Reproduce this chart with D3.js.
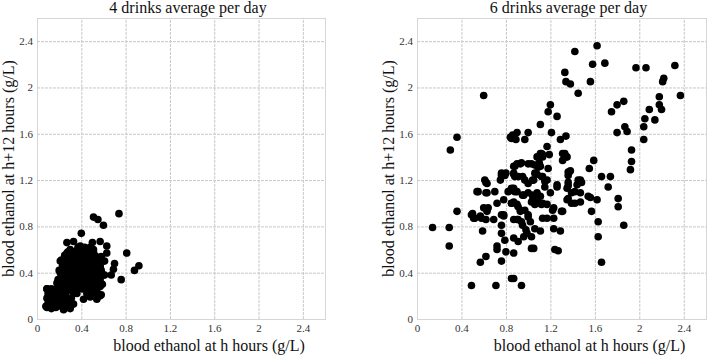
<!DOCTYPE html>
<html>
<head>
<meta charset="utf-8">
<script src="https://cdn.jsdelivr.net/npm/d3@7"></script>
<style>
  body { margin: 0; background: #fff; }
  svg { display: block; font-family: "Liberation Serif", "Times New Roman", serif; }
</style>
</head>
<body>
<svg id="chart" width="709" height="358"></svg>
<script>
// axis ticks shared by both panels
const tickValues = [0, 0.4, 0.8, 1.2, 1.6, 2, 2.4];
const titles = ["4 drinks average per day", "6 drinks average per day"];
const xLabel = "blood ethanol at h hours (g/L)";
const yLabel = "blood ethanol at h+12 hours (g/L)";

// [ethanol at h, ethanol at h+12]
const fourDrinks = [
  [0.74,0.91],[0.51,0.88],[0.55,0.86],[0.60,0.81],[0.40,0.74],[0.27,0.66],[0.33,0.67],
  [0.50,0.66],[0.57,0.67],[0.63,0.63],[0.63,0.57],[0.81,0.57],[0.70,0.48],[0.69,0.43],
  [0.67,0.38],[0.88,0.42],[0.92,0.46],[0.76,0.34],[0.57,0.20],[0.58,0.21],[0.46,0.21],
  [0.25,0.55],[0.40,0.60],[0.46,0.58],[0.52,0.55],
  [0.09,0.26],[0.12,0.19],[0.08,0.11],[0.13,0.09],[0.18,0.17],[0.22,0.11],[0.21,0.22],
  [0.25,0.24],[0.28,0.17],[0.30,0.09],[0.18,0.31],[0.21,0.40],[0.24,0.45],[0.22,0.51],
  [0.27,0.57],[0.30,0.60],[0.36,0.57],[0.39,0.63],[0.33,0.51],[0.36,0.45],[0.42,0.51],
  [0.48,0.57],[0.45,0.45],[0.50,0.42],[0.51,0.34],[0.39,0.37],[0.33,0.34],[0.27,0.34],
  [0.45,0.28],[0.48,0.19],[0.42,0.17],[0.36,0.22],[0.30,0.25],
  [0.51,0.60],[0.54,0.51],[0.57,0.45],[0.60,0.38],[0.52,0.34],[0.57,0.28],[0.51,0.22],[0.54,0.17],
  [0.09,0.10],[0.13,0.10],[0.17,0.10],[0.24,0.08],[0.27,0.10],[0.31,0.12],
  [0.10,0.14],[0.16,0.14],[0.22,0.14],[0.28,0.14],[0.33,0.13],
  [0.09,0.18],[0.13,0.18],[0.20,0.18],[0.25,0.18],[0.31,0.18],
  [0.10,0.22],[0.15,0.22],[0.19,0.22],[0.26,0.22],[0.33,0.22],[0.45,0.22],[0.55,0.22],
  [0.09,0.26],[0.13,0.26],[0.18,0.26],[0.23,0.26],[0.29,0.26],[0.35,0.26],[0.41,0.26],[0.47,0.26],[0.53,0.26],
  [0.21,0.30],[0.26,0.30],[0.31,0.30],[0.37,0.30],[0.43,0.30],[0.49,0.30],[0.55,0.30],[0.59,0.30],
  [0.19,0.34],[0.24,0.34],[0.29,0.34],[0.35,0.34],[0.40,0.34],[0.46,0.34],[0.52,0.34],[0.57,0.34],
  [0.22,0.38],[0.27,0.38],[0.33,0.38],[0.38,0.38],[0.44,0.38],[0.50,0.38],[0.55,0.38],[0.61,0.38],
  [0.20,0.42],[0.25,0.42],[0.31,0.42],[0.36,0.42],[0.42,0.42],[0.48,0.42],[0.53,0.42],[0.58,0.42],
  [0.23,0.46],[0.29,0.46],[0.34,0.46],[0.40,0.46],[0.46,0.46],[0.52,0.46],[0.57,0.46],
  [0.21,0.50],[0.27,0.50],[0.32,0.50],[0.38,0.50],[0.44,0.50],[0.49,0.50],[0.55,0.50],[0.61,0.50],
  [0.25,0.54],[0.30,0.54],[0.36,0.54],[0.42,0.54],[0.47,0.54],[0.53,0.54],[0.58,0.54],
  [0.28,0.58],[0.34,0.58],[0.39,0.58],[0.45,0.58],[0.51,0.58],
  [0.37,0.62],[0.43,0.62],[0.48,0.62]
];

const sixDrinks = [
  [0.30,1.46],[0.36,1.57],[0.60,1.93],[0.85,1.56],[0.86,1.59],[0.90,1.61],[0.89,1.55],
  [1.00,1.61],[1.11,1.68],[1.18,1.79],[1.20,1.85],[1.21,1.61],[1.26,1.75],[1.29,1.55],
  [1.34,1.58],[1.33,2.13],[1.34,2.05],[1.38,2.03],[1.42,2.31],[1.45,1.95],[1.56,2.05],
  [1.58,2.20],[1.62,2.36],[1.69,2.21],[1.75,1.79],[1.80,1.61],[1.80,1.85],[1.86,1.88],
  [1.87,1.66],[1.89,1.62],[1.97,2.17],[1.93,1.46],[1.93,1.36],[1.92,1.29],[2.04,1.66],
  [2.05,1.73],[2.04,1.55],[2.06,2.17],[2.09,1.81],[2.14,1.72],[2.18,1.92],[2.18,1.85],
  [2.20,1.81],[2.21,2.05],[2.22,2.08],[2.32,2.19],[2.37,1.93],
  [1.31,1.43],[1.34,1.40],[1.31,1.37],[1.36,1.27],[1.38,1.28],[1.55,1.30],[1.59,1.37],
  [1.66,1.23],[1.74,1.23],[1.11,1.43],[1.13,1.42],[1.10,1.35],[1.11,1.32],[1.08,1.40],
  [1.17,1.49],[1.19,1.42],[1.18,1.30],[1.00,1.34],[1.03,1.34],[0.88,1.32],[0.93,1.34],
  [1.06,1.26],[1.13,1.23],[0.87,1.26],[0.76,1.26],[0.80,1.26],[1.47,1.20],
  [0.97,1.55],[1.12,1.43],[1.13,1.40],[1.33,1.43],[1.35,1.40],[0.90,1.34],[0.94,1.35],
  [1.06,1.33],[1.09,1.31],[1.37,1.27],[1.36,1.24],[0.87,1.25],[0.91,1.23],[0.95,1.23],
  [0.97,1.20],[1.04,1.20],[1.08,1.25],[1.12,1.23],[1.17,1.20],[1.26,1.16],[1.36,1.18],
  [1.35,1.13],[1.45,1.20],[1.48,1.18],[1.42,1.10],[1.47,1.09],[0.87,1.13],[0.90,1.10],
  [0.95,1.07],[1.00,1.09],[1.04,1.07],[1.08,1.09],[1.04,1.03],[1.09,1.01],[1.13,1.00],
  [1.35,1.03],[1.39,1.00],[1.47,1.01],[1.56,1.05],[1.62,1.03],[0.87,1.01],[0.90,0.99],
  [0.93,0.93],[0.97,0.94],[1.00,0.88],[1.02,0.84],[1.13,0.87],[1.22,0.94],[1.30,0.93],
  [0.91,0.86],[0.95,0.81],[1.57,0.93],[1.63,0.84],
  [0.14,0.79],[0.29,0.79],[0.29,0.63],[0.36,0.93],[0.49,0.29],[0.57,0.49],[0.50,0.91],
  [0.51,0.87],[0.55,1.10],[0.57,0.89],[0.62,1.18],[0.62,1.09],[0.64,0.96],[0.62,0.86],
  [0.59,0.76],[0.62,0.54],[0.70,1.10],[0.72,1.00],[0.75,1.20],[0.69,0.86],[0.76,0.90],
  [0.78,0.90],[0.76,0.74],[0.79,0.68],[0.72,0.63],[0.72,0.60],[0.80,0.58],[0.87,0.57],
  [0.76,0.50],[0.71,0.29],[0.85,0.35],[0.87,0.35],[0.94,0.29],[0.84,1.11],[0.88,1.10],
  [0.85,1.00],[0.91,0.97],[0.93,0.94],[0.90,0.86],[0.94,0.84],[0.87,0.70],[0.91,0.67],
  [0.96,0.71],[0.98,0.77],[0.99,0.74],[1.00,0.90],[0.96,1.07],[1.00,1.17],[1.05,1.20],
  [1.03,1.01],[1.06,0.99],[1.08,1.07],[1.11,1.06],[1.12,0.99],[1.03,0.71],[1.03,0.61],
  [1.05,0.61],[1.06,0.78],[1.11,0.76],[1.15,1.14],[1.15,1.19],[1.17,0.99],[1.17,0.87],
  [1.20,1.09],[1.23,0.96],[1.23,0.87],[1.23,0.78],[1.26,1.14],[1.24,0.60],[1.27,0.59],
  [1.29,0.76],[1.31,0.93],[1.36,1.04],[1.36,1.15],[1.39,1.09],[1.42,1.00],[1.44,1.16],
  [1.54,1.06],[1.63,0.71],[1.66,0.49],[1.72,1.14],[1.81,1.04],[1.81,0.97],[1.86,0.81],
  [0.61,1.20],[0.63,1.17],[0.54,1.10],[0.63,1.09],[0.76,1.24],[0.79,1.24],[0.82,1.10],
  [0.85,1.13],[0.78,1.03],[0.85,1.00],[0.60,0.96],[0.63,0.93],[0.49,0.90],[0.52,0.87],
  [0.58,0.87],[0.78,0.89],[0.87,0.86],[0.76,0.81],[0.87,1.32],[0.88,1.23],[0.84,1.57]
];

const svg = d3.select("#chart");

// panel geometry
const panels = [
  { data: fourDrinks, left: 37, right: 325, yLabelX: 14 },
  { data: sixDrinks, left: 417, right: 706, yLabelX: 394 }
];
const plotTop = 18, plotBottom = 319;

panels.forEach((p, i) => {
  const x = d3.scaleLinear().domain([0, 2.6]).range([p.left, p.right]);
  const y = d3.scaleLinear().domain([0, 2.6]).range([plotBottom, plotTop]);
  const w = p.right - p.left;
  const h = plotBottom - plotTop;

  const g = svg.append("g");

  // frame
  g.append("rect")
    .attr("x", p.left + 0.5).attr("y", plotTop + 0.5)
    .attr("width", w).attr("height", h)
    .attr("fill", "none")
    .attr("stroke", "#d6d6d6");

  // grid + tick labels
  const fmt = d => String(+d.toFixed(1));
  const yAxis = g.append("g")
    .attr("transform", `translate(${p.left},0)`)
    .call(d3.axisLeft(y).tickValues(tickValues).tickSize(-w).tickPadding(4).tickFormat(fmt));
  const xAxis = g.append("g")
    .attr("transform", `translate(0,${plotBottom})`)
    .call(d3.axisBottom(x).tickValues(tickValues).tickSize(-h).tickPadding(5).tickFormat(fmt));

  [xAxis, yAxis].forEach(a => {
    a.select(".domain").remove();
    a.selectAll(".tick line")
      .attr("stroke", "#c8c8c8")
      .attr("stroke-dasharray", "3,1");
    a.selectAll(".tick text")
      .attr("font-family", "Liberation Serif, serif")
      .attr("font-size", 11)
      .attr("fill", "#333");
  });
  // no gridline over the frame at 0
  xAxis.selectAll(".tick").filter(d => d === 0).select("line").remove();
  yAxis.selectAll(".tick").filter(d => d === 0).select("line").remove();

  // points
  g.append("g")
    .selectAll("circle")
    .data(p.data)
    .join("circle")
    .attr("cx", d => x(d[0]))
    .attr("cy", d => y(d[1]))
    .attr("r", 3.8)
    .attr("fill", "#000");

  // texts
  g.append("text")
    .attr("x", (p.left + p.right) / 2 + 7)
    .attr("y", 13)
    .attr("text-anchor", "middle")
    .attr("font-size", 16)
    .attr("fill", "#111")
    .text(titles[i]);

  g.append("text")
    .attr("x", (p.left + p.right) / 2 + 28)
    .attr("y", 351)
    .attr("text-anchor", "middle")
    .attr("font-size", 16)
    .attr("fill", "#111")
    .text(xLabel);

  g.append("text")
    .attr("transform", `translate(${p.yLabelX},${(plotTop + plotBottom) / 2}) rotate(-90)`)
    .attr("text-anchor", "middle")
    .attr("font-size", 16)
    .attr("fill", "#111")
    .text(yLabel);
});
</script>
</body>
</html>
